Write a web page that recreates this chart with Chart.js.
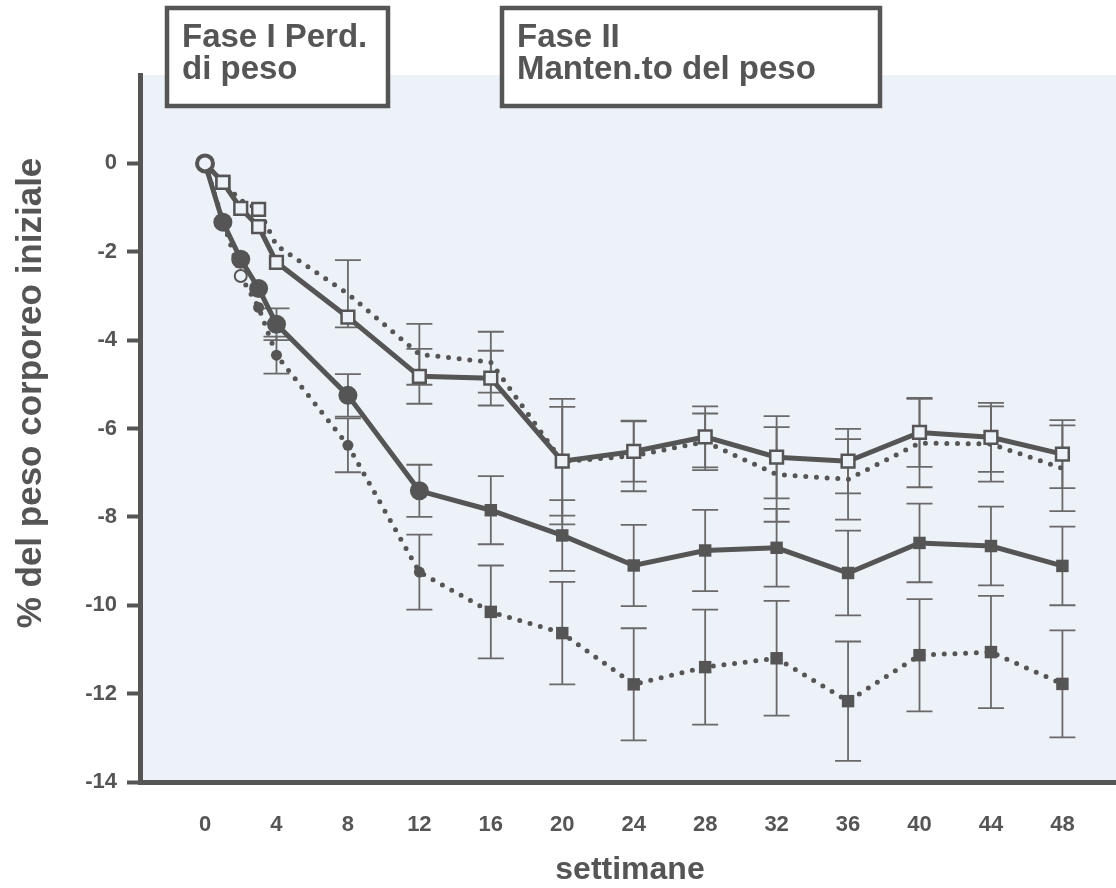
<!DOCTYPE html>
<html>
<head>
<meta charset="utf-8">
<script src="https://cdn.jsdelivr.net/npm/chart.js@4.4.1/dist/chart.umd.min.js"></script>
<style>
  html, body { margin: 0; padding: 0; background: #fff; overflow: hidden; }
  canvas { display: block; }
</style>
</head>
<body>
<canvas id="chart" width="1116" height="888"></canvas>
<script>
// settimane di follow-up
const weeks = [0, 1, 2, 3, 4, 8, 12, 16, 20, 24, 28, 32, 36, 40, 44, 48];
const xTickLabels = [0, 4, 8, 12, 16, 20, 24, 28, 32, 36, 40, 44, 48];
const yTickLabels = [0, -2, -4, -6, -8, -10, -12, -14];

// % del peso corporeo iniziale, quattro gruppi
const openSolid   = [0, -0.43, -1.02, -1.43, -2.24, -3.48, -4.82, -4.86, -6.74, -6.52, -6.19, -6.65, -6.74, -6.09, -6.20, -6.58];
const openDotted  = [0, -0.43, -0.84, -1.04, -1.86, -2.95, -4.32, -4.50, -6.75, -6.62, -6.30, -7.04, -7.15, -6.33, -6.35, -6.90];
const fullSolid   = [0, -1.33, -2.17, -2.83, -3.64, -5.25, -7.41, -7.85, -8.42, -9.10, -8.76, -8.70, -9.27, -8.59, -8.66, -9.11];
const fullDotted  = [0, -1.30, -2.55, -3.26, -4.34, -6.38, -9.25, -10.15, -10.63, -11.79, -11.40, -11.20, -12.17, -11.13, -11.06, -11.78];

// errore (semi-ampiezza delle barre)
const openSolidErr  = [null, null, null, null, null, null, 0.62, 0.62, 1.23, 0.68, 0.69, 0.93, 0.73, 0.78, 0.78, 0.77];
const openDottedErr = [null, null, null, null, null, 0.76, 0.69, 0.69, 1.42, 0.80, 0.64, 1.07, 0.91, 1.00, 0.85, 0.97];
const fullSolidErr  = [null, null, null, null, 0.36, 0.48, 0.59, 0.77, 0.80, 0.92, 0.92, 0.88, 0.96, 0.89, 0.89, 0.89];
const fullDottedErr = [null, null, null, null, 0.42, 0.61, 0.85, 1.05, 1.16, 1.27, 1.30, 1.30, 1.35, 1.27, 1.27, 1.21];

const INK = '#555555';
const BAR = '#696969';
const PLOT_BG = '#edf2f9';
const FONT = '"Liberation Sans", Arial, Helvetica, sans-serif';

const pts = vals => vals.map((v, i) => ({ x: weeks[i], y: v }));

const datasets = [
  {
    data: pts(openSolid), err: openSolidErr,
    borderColor: INK, borderWidth: 5,
    pointStyle: weeks.map(w => w === 0 ? 'circle' : 'rect'),
    pointRadius: weeks.map(w => w === 0 ? 8 : 9),
    pointBorderWidth: weeks.map(w => w === 0 ? 4 : 2.5),
    pointBackgroundColor: PLOT_BG, pointBorderColor: INK
  },
  {
    data: pts(openDotted), err: openDottedErr,
    borderColor: INK, borderWidth: 5, borderDash: [0, 10.7], borderCapStyle: 'round',
    pointStyle: 'rect',
    pointRadius: weeks.map(w => (w === 3 || w === 1) ? 9 : 0),
    pointBorderWidth: 2.5,
    pointBackgroundColor: PLOT_BG, pointBorderColor: INK
  },
  {
    data: pts(fullSolid), err: fullSolidErr,
    borderColor: INK, borderWidth: 5,
    pointStyle: weeks.map(w => w <= 12 ? 'circle' : 'rect'),
    pointRadius: weeks.map(w => w === 0 ? 0 : (w <= 12 ? 9.5 : 8.8)),
    pointBorderWidth: 0,
    pointBackgroundColor: INK, pointBorderColor: INK
  },
  {
    data: pts(fullDotted), err: fullDottedErr,
    borderColor: INK, borderWidth: 5, borderDash: [0, 10.7], borderCapStyle: 'round',
    pointStyle: weeks.map(w => w <= 12 ? 'circle' : 'rect'),
    pointRadius: weeks.map(w => w === 0 ? 0 : (w === 2 ? 6 : (w <= 12 ? 5.5 : 8.8))),
    pointBorderWidth: weeks.map(w => w === 2 ? 2 : 0),
    pointBackgroundColor: weeks.map(w => w === 2 ? PLOT_BG : INK), pointBorderColor: INK
  }
];

// sfondo dell'area del grafico
const plotBg = {
  id: 'plotBg',
  beforeDraw(chart) {
    const a = chart.chartArea, ctx = chart.ctx;
    ctx.save();
    ctx.fillStyle = PLOT_BG;
    ctx.fillRect(a.left, a.top, a.right - a.left, a.bottom - a.top);
    ctx.restore();
  }
};

// barre di errore, disegnate con le scale del grafico
const errorBars = {
  id: 'errorBars',
  beforeDatasetsDraw(chart) {
    const ctx = chart.ctx, xs = chart.scales.x, ys = chart.scales.y;
    ctx.save();
    ctx.strokeStyle = BAR;
    ctx.lineWidth = 1.8;
    chart.data.datasets.forEach(ds => {
      ds.data.forEach((p, i) => {
        const e = ds.err[i];
        if (e == null) return;
        const x = xs.getPixelForValue(p.x);
        const y1 = ys.getPixelForValue(p.y + e);
        const y2 = ys.getPixelForValue(p.y - e);
        ctx.beginPath();
        ctx.moveTo(x, y1); ctx.lineTo(x, y2);
        ctx.moveTo(x - 13, y1); ctx.lineTo(x + 13, y1);
        ctx.moveTo(x - 13, y2); ctx.lineTo(x + 13, y2);
        ctx.stroke();
      });
    });
    ctx.restore();
  }
};

// riquadri delle fasi e titoli degli assi
const texts = {
  id: 'texts',
  afterDraw(chart) {
    const ctx = chart.ctx;
    ctx.save();
    const box = (x, y, w, h, lines) => {
      ctx.fillStyle = '#ffffff';
      ctx.fillRect(x, y, w, h);
      ctx.strokeStyle = INK;
      ctx.lineWidth = 4.5;
      ctx.strokeRect(x, y, w, h);
      ctx.fillStyle = INK;
      ctx.font = 'bold 33px ' + FONT;
      ctx.textAlign = 'left';
      ctx.textBaseline = 'alphabetic';
      lines.forEach((t, k) => ctx.fillText(t, x + 15, y + 39 + k * 32));
    };
    box(167, 8, 221, 98, ['Fase I Perd.', 'di peso']);
    box(502, 8, 378, 98, ['Fase II', 'Manten.to del peso']);

    ctx.fillStyle = INK;
    ctx.font = 'bold 32px ' + FONT;
    ctx.textAlign = 'center';
    ctx.textBaseline = 'middle';
    ctx.fillText('settimane', 630, 870);
    ctx.font = 'bold 35px ' + FONT;
    ctx.translate(31, 393);
    ctx.rotate(-Math.PI / 2);
    ctx.fillText('% del peso corporeo iniziale', 0, 0);
    ctx.restore();
  }
};

new Chart(document.getElementById('chart'), {
  type: 'line',
  data: { datasets },
  plugins: [plotBg, errorBars, texts],
  options: {
    responsive: false,
    animation: false,
    devicePixelRatio: 1,
    layout: { autoPadding: false, padding: { top: 75, left: 0, right: 0, bottom: 0 } },
    plugins: { legend: { display: false }, tooltip: { enabled: false } },
    scales: {
      x: {
        type: 'linear', min: -3.64, max: 51,
        afterBuildTicks: s => { s.ticks = xTickLabels.map(v => ({ value: v })); },
        afterFit: s => { s.height = 106; s.paddingLeft = 0; s.paddingRight = 0; },
        grid: { display: false },
        border: { display: true, color: INK, width: 5 },
        ticks: { color: INK, padding: 22, maxRotation: 0, font: { family: FONT, size: 22, weight: 'bold' } }
      },
      y: {
        min: -14, max: 2,
        afterBuildTicks: s => { s.ticks = yTickLabels.map(v => ({ value: v })); },
        afterFit: s => { s.width = 140; s.paddingTop = 0; s.paddingBottom = 0; },
        grid: { drawOnChartArea: false, drawTicks: true, tickLength: 13, tickWidth: 4, tickColor: INK },
        border: { display: true, color: INK, width: 5 },
        ticks: { color: INK, padding: 10, font: { family: FONT, size: 22, weight: 'bold' } }
      }
    }
  }
});
</script>
</body>
</html>
